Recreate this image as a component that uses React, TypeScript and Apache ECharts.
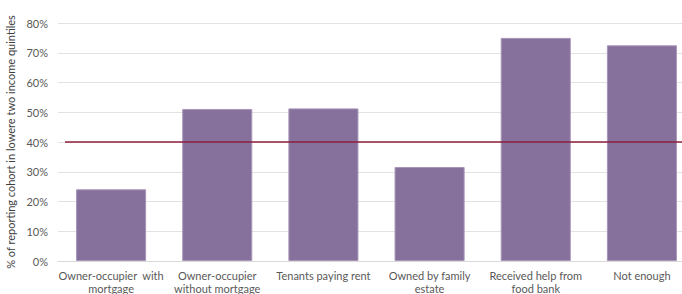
import React, { useEffect, useRef } from "react";
import * as echarts from "echarts";

const categories = [
  "Owner-occupier  with\nmortgage",
  "Owner-occupier\nwithout mortgage",
  "Tenants paying rent",
  "Owned by family\nestate",
  "Received help from\nfood bank",
  "Not enough",
];
const values = [24.1, 51.1, 51.3, 31.6, 75.0, 72.5];
const referenceLine = 40;
const yTicks = [0, 10, 20, 30, 40, 50, 60, 70, 80];
const yTitle = "% of reporting cohort in lowere two income quintiles";

export default function App() {
  const ref = useRef<HTMLDivElement>(null);
  useEffect(() => {
    if (!ref.current) return;
    const chart = echarts.init(ref.current, null, { renderer: "svg" });
    const font = "Lato, 'Open Sans', sans-serif";
    chart.setOption({
      animation: false,
      grid: [
        { left: 58, right: -13, top: 23, bottom: 33, outerBoundsMode: "none", containLabel: false },
        { left: 65, right: 0, top: 23, bottom: 33, outerBoundsMode: "none", containLabel: false },
      ],
      xAxis: [
        {
          type: "category",
          data: categories,
          gridIndex: 0,
          axisLine: { lineStyle: { color: "#d9d9d9" } },
          axisTick: { show: false },
          axisLabel: {
            color: "#595959",
            fontFamily: font,
            fontSize: 11,
            lineHeight: 13,
            margin: 8,
            interval: 0,
          },
        },
        { type: "value", gridIndex: 1, min: 0, max: 1, show: false },
      ],
      yAxis: [
        {
          type: "value",
          gridIndex: 0,
          min: 0,
          max: 80,
          interval: 10,
          name: yTitle,
          nameLocation: "middle",
          nameGap: 42,
          nameTextStyle: { color: "#404040", fontFamily: font, fontSize: 11 },
          axisLine: { show: false },
          axisTick: { show: false },
          axisLabel: {
            color: "#595959",
            fontFamily: font,
            fontSize: 11,
            margin: 10,
            formatter: (v: number) => (yTicks.includes(v) ? v + "%" : ""),
          },
          splitLine: { lineStyle: { color: "#e3e3e3" } },
        },
        { type: "value", gridIndex: 1, min: 0, max: 80, show: false },
      ],
      series: [
        {
          type: "bar",
          data: values,
          xAxisIndex: 0,
          yAxisIndex: 0,
          barWidth: "66%",
          itemStyle: { color: "#85719b", borderColor: "#a896b8", borderWidth: 1 },
        },
        {
          type: "line",
          xAxisIndex: 1,
          yAxisIndex: 1,
          data: [
            [0, referenceLine],
            [1, referenceLine],
          ],
          symbol: "none",
          lineStyle: { color: "#8e1f3c", width: 1.3 },
        },
      ],
    });
    return () => chart.dispose();
  }, []);
  return (
    <div
      ref={ref}
      style={{ position: "fixed", left: 0, top: 0, width: 682, height: 294, background: "#fff", overflow: "hidden" }}
    />
  );
}
